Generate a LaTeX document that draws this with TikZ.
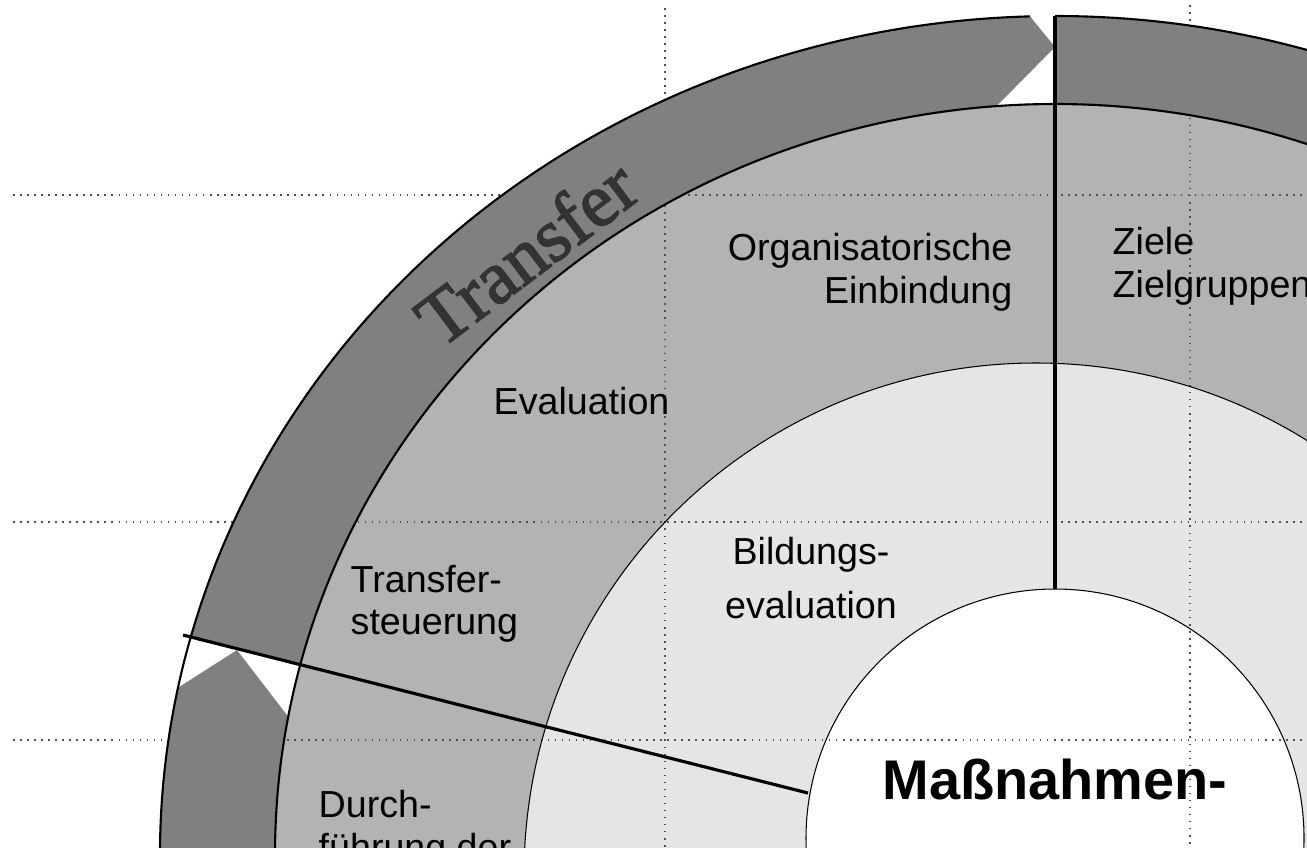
\documentclass[tikz,border=0pt]{standalone}
\usepackage{fontspec}
\setmainfont{Liberation Sans}
\newfontfamily\wordart{Liberation Serif}[FakeBold=2]

\definecolor{ringdark}{RGB}{128,128,128}
\definecolor{ringmid}{RGB}{179,179,179}
\definecolor{ringlight}{RGB}{229,229,229}
\definecolor{gridgray}{RGB}{80,80,80}

\begin{document}
\begin{tikzpicture}[x=0.01cm, y=0.01cm,
  band/.style = {fill=ringdark},
  bandedge/.style = {draw=black, line width=0.6pt},
  rim/.style = {draw=black, line width=0.3pt},
  spoke/.style = {draw=black, line width=0.9pt},
  guide/.style = {draw=gridgray, line width=0.45pt, dash pattern=on 0.45pt off 1.55pt},
  txt/.style = {inner sep=0pt, font=\fontsize{10.7}{11.95}\selectfont},
  ]
  \useasboundingbox (0,0) rectangle (1307,847);
  \clip (0,0) rectangle (1307,847);

  \coordinate (C) at (1055,-8);
  \coordinate (top-out) at (1055,831);
  \coordinate (top-in) at (1055,258);
  \coordinate (left-out) at (183,212);
  \coordinate (left-in) at (808,54);
  \coordinate (tip-tr) at (1055,800);
  \coordinate (tip-dl) at (237,197);
  \path (C) ++(94.3:780 and 751) coordinate (in-tr);
  \path (C) ++(169.4:780 and 751) coordinate (in-dl);
  \path (C) ++(55:780 and 751) coordinate (in-r);

  % rings
  \fill[ringmid] (C) ellipse[x radius=780, y radius=751];
  \fill[ringlight] (1036,-28) circle[radius=512];
  \fill[white] (1055,9) circle[radius=249];

  \foreach \y in {652,325,107}
    \draw[guide] (13,\y) -- (1307,\y);
  \draw[guide] (665,839) -- (665,0);
  \draw[guide] (1190,842) -- (1190,0);

  % arrow segments of the outer band
  \fill[band] (C) ++(164.9:895 and 839)
    arc[start angle=164.9, end angle=91.6, x radius=895, y radius=839]
    -- (tip-tr) -- (in-tr)
    arc[start angle=94.3, end angle=165.3, x radius=780, y radius=751] -- cycle;
  \fill[band] (C) ++(190:895 and 839)
    arc[start angle=190, end angle=168.5, x radius=895, y radius=839]
    -- (tip-dl) -- (in-dl)
    arc[start angle=169.4, end angle=190, x radius=780, y radius=751] -- cycle;
  \fill[band] (C) ++(90:895 and 839)
    arc[start angle=90, end angle=55, x radius=895, y radius=839]
    -- (in-r)
    arc[start angle=55, end angle=90, x radius=780, y radius=751] -- cycle;

  \draw[bandedge] (C) ++(190:895 and 839)
    arc[start angle=190, end angle=91.6, x radius=895, y radius=839];
  \draw[bandedge] (C) ++(90:895 and 839)
    arc[start angle=90, end angle=55, x radius=895, y radius=839];
  \draw[bandedge] (C) ellipse[x radius=780, y radius=751];
  \draw[rim] (1036,-28) circle[radius=512];
  \draw[rim] (1055,9) circle[radius=249];

  \draw[spoke] (top-out) -- (top-in);
  \draw[spoke] (left-out) -- (left-in);

  \node[txt, anchor=north east, align=right] (orga) at (1013,614) {Organisatorische\\Einbindung};
  \node[txt, anchor=north west, align=left] (ziele) at (1112,620) {Ziele\\Zielgruppen};
  \node[txt, anchor=north west] (eval) at (493,460) {Evaluation};
  \node[txt, anchor=north west, align=left] (steuer) at (350,282) {Transfer-\\steuerung};
  \node[txt, anchor=north, align=center, font=\fontsize{10.7}{15.1}\selectfont] (bildung) at (811,310) {Bildungs-\\evaluation};
  \node[txt, anchor=north west, align=left] (durch) at (318,57) {Durch-\\führung der};
  \node[inner sep=0pt, anchor=north, font=\fontsize{15.9}{18}\selectfont\bfseries] (massn) at (1055,89) {Maßnahmen-};
  \node[inner sep=0pt, anchor=base, rotate=37, text=black!80,
        font=\wordart\fontsize{21.5}{25}\selectfont] (transfer) at (542,574) {Transfer};
\end{tikzpicture}
\end{document}
